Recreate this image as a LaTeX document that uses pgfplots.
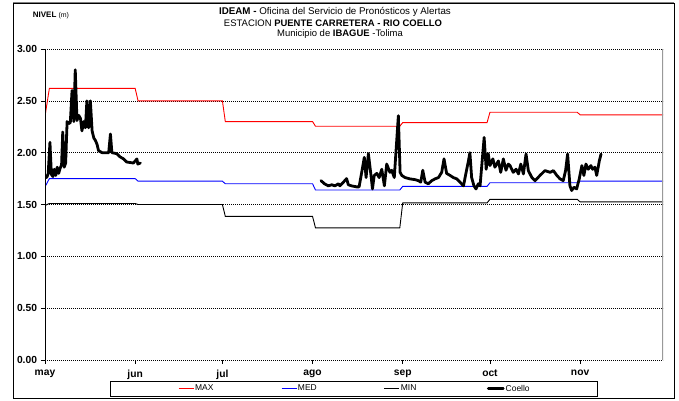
\documentclass[border=0pt]{standalone}
\usepackage{pgfplots}
\pgfplotsset{compat=1.18}
\usepackage{fontspec}
\setmainfont{Liberation Sans}
\begin{document}
\begin{tikzpicture}
\useasboundingbox (0,0) rectangle (679bp,401bp);
\draw[black, line width=0.9bp] (13bp,3bp) rectangle (674bp,398bp);
\draw[gray, line width=1bp] (13bp,398bp) -- (674bp,398bp);
\node[font=\fontsize{9.8}{11}\selectfont] at (335bp,389bp) {\textbf{IDEAM -} Oficina del Servicio de Pronósticos y Alertas};
\node[font=\fontsize{9.5}{11}\selectfont] at (333bp,378bp) {ESTACION \textbf{PUENTE CARRETERA - RIO COELLO}};
\node[font=\fontsize{9.5}{11}\selectfont] at (340bp,367bp) {Municipio de \textbf{IBAGUE} -Tolima};
\node[font=\fontsize{8}{9}\selectfont] at (51bp,386bp) {\textbf{NIVEL} {\fontsize{7}{8}\selectfont (m)}};
\begin{axis}[
  at={(45bp,41bp)}, anchor=south west,
  scale only axis, width=618bp, height=311bp,
  xmin=0, xmax=212.5, ymin=0, ymax=3,
  xtick={0,31,61,92,123,153,184},
  xticklabels={may,jun,jul,ago,sep,oct,nov},
  ytick={0,0.5,1,1.5,2,2.5,3},
  /pgf/number format/assume math mode=true,
  yticklabel style={/pgf/number format/fixed, /pgf/number format/fixed zerofill, /pgf/number format/precision=2, xshift=-0.5bp},
  xticklabel style={yshift=-2.5bp},
  ticklabel style={font=\bfseries\fontsize{10.3}{11}\selectfont},
  ymajorgrids,
  major grid style={black, line width=0.5bp, dash pattern=on 1bp off 1bp},
  tick pos=left, tick align=outside, major tick length=4bp,
  tick style={black, line width=0.6bp},
  axis line style={draw=none},
  unbounded coords=jump,
  legend columns=4,
  legend image code/.code={\draw[#1] (0bp,0bp) -- (15bp,0bp);},
  legend style={at={(0.105,-0.068)}, anchor=north west, draw=black, line width=0.6bp,
    inner xsep=68bp, inner ysep=2bp, font=\fontsize{8.5}{9}\selectfont,
    nodes={inner xsep=0pt, inner ysep=1.5bp}},
]
\addplot[red, line width=0.9bp] coordinates {
(0,2.35) (1.5,2.62) (31,2.62) (32,2.50) (61,2.50) (62,2.30) (92,2.30) (93,2.255) (122,2.255) (123,2.29) (152,2.29) (153,2.39) (183,2.39) (184,2.365) (212.5,2.365)};
\addlegendentry{\hspace{1bp}\makebox[86bp][l]{MAX}}
\addplot[blue, line width=0.9bp] coordinates {
(0,1.67) (1.5,1.75) (31,1.75) (32,1.725) (61,1.725) (62,1.70) (92,1.70) (93,1.64) (122,1.64) (123,1.675) (152,1.675) (153,1.71) (183,1.71) (184,1.725) (212.5,1.725)};
\addlegendentry{\hspace{1bp}\makebox[86bp][l]{MED}}
\addplot[black, line width=0.9bp] coordinates {
(0,1.49) (1.5,1.51) (31,1.51) (32,1.50) (61,1.50) (62,1.385) (92,1.385) (93,1.275) (122,1.275) (123,1.515) (152,1.515) (153,1.55) (183,1.55) (184,1.525) (212.5,1.525)};
\addlegendentry{\hspace{1bp}\makebox[86bp][l]{MIN}}
\addplot[black, line width=2.8bp, line join=round, line cap=round] coordinates {
(0.6,1.76) (1.1,1.80) (1.7,2.10) (2.2,1.79) (2.7,1.77) (3.2,1.84) (3.7,1.78) (4.2,1.86) (4.7,1.80) (5.2,1.85) (5.7,1.88) (6.1,2.20) (6.6,1.86) (7.1,1.90) (7.6,2.30) (8.1,2.28) (8.7,2.29) (9.3,2.60) (9.9,2.30) (10.4,2.80) (11,2.31) (11.6,2.36) (12.2,2.33) (12.7,2.21) (13.3,2.30) (13.9,2.24) (14.4,2.50) (15,2.24) (15.6,2.50) (16.2,2.21) (16.8,2.14) (17.3,2.12) (17.9,2.08) (18.4,2.02) (19.6,2.00) (21.9,2.00) (22.5,2.18) (23,2.00) (24.7,1.99) (25.8,1.96) (27,1.94) (28.1,1.91) (30.4,1.90) (31.6,1.94) (31.9,1.89) (32.8,1.90)
(60,nan)
(94.9,1.73) (96.1,1.70) (97.4,1.68) (98.6,1.69) (99.7,1.68) (100.9,1.70) (101.4,1.68) (102.6,1.715) (103.7,1.75) (104.3,1.69) (105.4,1.68) (107.2,1.67) (108,1.67) (108.9,1.81) (109.8,1.955) (110.4,1.76) (111.2,1.99) (112.1,1.78) (112.6,1.65) (113.2,1.78) (114.1,1.80) (114.9,1.76) (115.8,1.84) (116.7,1.68) (117.5,1.89) (118.6,1.81) (119.2,1.83) (120.1,1.76) (121.5,2.356) (122.1,1.81) (122.7,1.78) (123.8,1.76) (125.5,1.747) (127.2,1.74) (128.4,1.73) (129.2,1.715) (129.9,1.83) (130.7,1.715) (131.8,1.70) (133,1.73) (134.1,1.747) (135.3,1.76) (136.4,1.81) (137.2,1.94) (138.1,1.80) (139.3,1.78) (140.4,1.76) (141.6,1.747) (142.7,1.715) (143.9,1.68) (144.8,1.81) (145.6,1.92) (146.1,2.00) (146.7,1.76) (147.5,1.68) (148.2,1.65) (149,1.70) (149.6,1.68) (151,2.147) (151.7,1.84) (152.4,1.99) (153,1.875) (154,1.94) (154.7,1.86) (155.9,1.92) (156.7,1.81) (157.6,1.94) (158.5,1.83) (159.3,1.89) (159.9,1.875) (161,1.81) (162,1.84) (162.8,1.795) (163.6,1.89) (164.5,1.795) (165.4,1.987) (166.2,1.827) (167.4,1.76) (168.5,1.73) (170.2,1.78) (171.9,1.827) (173.7,1.81) (174.8,1.827) (176,1.78) (177.1,1.747) (178.2,1.73) (179,1.827) (179.7,1.987) (180.5,1.68) (181.1,1.635) (181.9,1.667) (182.8,1.65) (183.7,1.747) (184.6,1.875) (185.3,1.78) (186,1.89) (186.8,1.84) (187.7,1.875) (188.3,1.84) (189.1,1.86) (189.7,1.78) (190.6,1.92) (191.2,1.987)};
\addlegendentry{\hspace{1bp}Coello}
\draw[gray!80, line width=1.3bp] (rel axis cs:1,0) -- (rel axis cs:1,1);
\draw[black, line width=0.8bp] (rel axis cs:0,1) -- (rel axis cs:0,0) -- (rel axis cs:1,0);
\end{axis}
\end{tikzpicture}
\end{document}
